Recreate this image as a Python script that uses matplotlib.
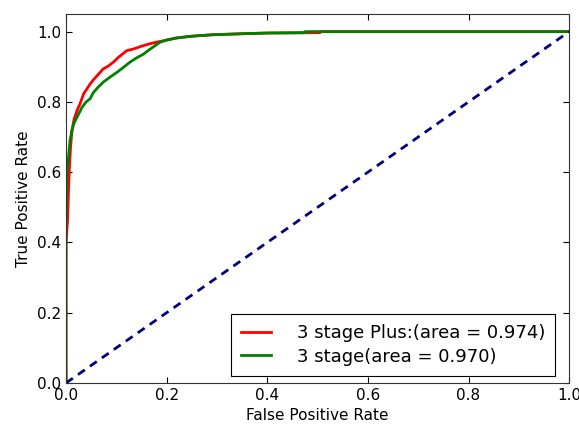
import matplotlib
matplotlib.use('Agg')
import matplotlib.pyplot as plt

# ROC points
fpr_plus = [0.0, 0.0, 0.003, 0.005, 0.007, 0.009, 0.012, 0.016, 0.022, 0.028,
            0.035, 0.041, 0.048, 0.054, 0.062, 0.074, 0.084, 0.094, 0.105, 0.121,
            0.135, 0.147, 0.165, 0.18, 0.2, 0.22, 0.25, 0.29, 0.35, 0.40,
            0.505, 0.505, 1.0]
tpr_plus = [0.0, 0.40, 0.46, 0.55, 0.62, 0.67, 0.72, 0.75, 0.776, 0.795,
            0.823, 0.836, 0.851, 0.862, 0.875, 0.894, 0.902, 0.913, 0.928, 0.946,
            0.951, 0.957, 0.965, 0.970, 0.976, 0.982, 0.987, 0.991, 0.994, 0.996,
            0.997, 1.0, 1.0]

fpr_base = [0.0, 0.0, 0.002, 0.005, 0.008, 0.012, 0.016, 0.022, 0.032, 0.040,
            0.048, 0.054, 0.064, 0.074, 0.087, 0.101, 0.114, 0.127, 0.14, 0.154,
            0.165, 0.174, 0.187, 0.2, 0.22, 0.25, 0.29, 0.35, 0.40, 0.475,
            0.475, 1.0]
tpr_base = [0.0, 0.45, 0.60, 0.643, 0.69, 0.72, 0.74, 0.757, 0.785, 0.80,
            0.809, 0.826, 0.842, 0.856, 0.870, 0.884, 0.898, 0.913, 0.925, 0.936,
            0.948, 0.957, 0.970, 0.976, 0.982, 0.987, 0.991, 0.994, 0.996, 0.997,
            1.0, 1.0]

auc_plus = 0.974
auc_base = 0.970

plt.rcParams['font.family'] = 'DejaVu Sans'
plt.rcParams['xtick.direction'] = 'in'
plt.rcParams['ytick.direction'] = 'in'
plt.rcParams['lines.scale_dashes'] = False

fig = plt.figure(figsize=(5.79, 4.26), dpi=100)
ax = fig.add_axes([0.114, 0.101, 0.869, 0.866])

ax.plot(fpr_plus, tpr_plus, color='red', lw=2,
        label='3 stage Plus:(area = %0.3f)' % auc_plus)
ax.plot(fpr_base, tpr_base, color='green', lw=2,
        label='3 stage(area = %0.3f)' % auc_base)
ax.plot([0, 1], [0, 1], color='navy', lw=2, linestyle='--', dashes=(6, 4.5))

ax.set_xlim(0.0, 1.0)
ax.set_ylim(0.0, 1.05)
ax.set_xticks([0.0, 0.2, 0.4, 0.6, 0.8, 1.0])
ax.set_yticks([0.0, 0.2, 0.4, 0.6, 0.8, 1.0])
ax.tick_params(top=True, right=True, labelsize=11, length=4, width=0.8)
ax.set_xlabel('False Positive Rate', fontsize=11)
ax.set_ylabel('True Positive Rate', fontsize=11)
for s in ax.spines.values():
    s.set_color('#333333')

leg = ax.legend(loc='lower right', bbox_to_anchor=(0.972, 0.02), borderaxespad=0,
                fontsize=13, fancybox=False, framealpha=1, handlelength=1.7,
                handletextpad=1.4, labelspacing=0.3, borderpad=0.55)
leg.get_frame().set_edgecolor('black')
leg.get_frame().set_linewidth(0.8)

fig.savefig('out.png', dpi=100)
